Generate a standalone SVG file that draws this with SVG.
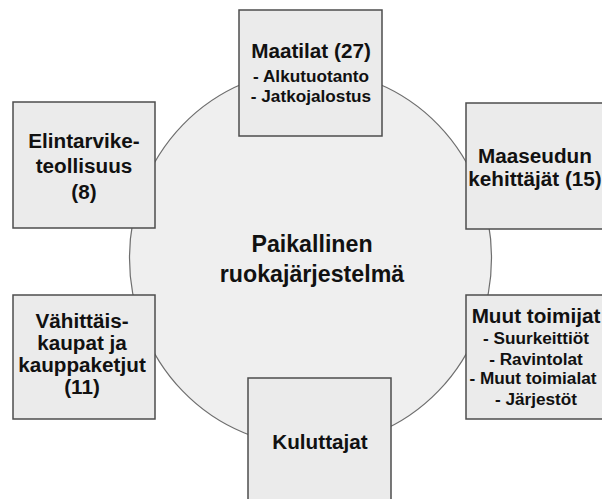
<svg xmlns="http://www.w3.org/2000/svg" width="602" height="499" viewBox="0 0 602 499">
<style>
.box{fill:#ebebeb;stroke:#4d4d4d;stroke-width:1.5}
.hub{fill:#efefef;stroke:#6e6e6e;stroke-width:1.2}
text{font-family:"Liberation Sans",Arial,sans-serif;font-weight:bold;fill:#111;text-anchor:middle}
.t{font-size:20.7px}
.s{font-size:17.2px}
.c{font-size:23.2px}
</style>
<rect width="602" height="499" fill="#ffffff"/>
<g id="hub">
<ellipse class="hub" cx="310.5" cy="258" rx="181" ry="188"/>
<text class="c" x="312" y="252">Paikallinen</text>
<text class="c" x="312" y="282">ruokajärjestelmä</text>
</g>
<g id="connectors"></g>
<g id="maatilat">
<rect class="box" x="239" y="10" width="143" height="126"/>
<text class="t" x="311" y="58">Maatilat (27)</text>
<text class="s" x="311" y="82">- Alkutuotanto</text>
<text class="s" x="311" y="102">- Jatkojalostus</text>
</g>
<g id="elintarvike">
<rect class="box" x="13" y="102" width="142" height="126"/>
<text class="t" x="84" y="148">Elintarvike-</text>
<text class="t" x="84" y="173">teollisuus</text>
<text class="t" x="84" y="199">(8)</text>
</g>
<g id="maaseudun">
<rect class="box" x="466" y="103" width="143" height="126"/>
<text class="t" x="535" y="163">Maaseudun</text>
<text class="t" x="535" y="186">kehittäjät (15)</text>
</g>
<g id="vahittais">
<rect class="box" x="13" y="295" width="142" height="124"/>
<text class="t" x="82" y="328">Vähittäis-</text>
<text class="t" x="82" y="350">kaupat ja</text>
<text class="t" x="82" y="372">kauppaketjut</text>
<text class="t" x="82" y="394">(11)</text>
</g>
<g id="muut">
<rect class="box" x="466" y="295" width="143" height="124"/>
<text class="t" x="536" y="323">Muut toimijat</text>
<text class="s" x="536" y="344">- Suurkeittiöt</text>
<text class="s" x="536" y="365">- Ravintolat</text>
<text class="s" x="533" y="384">- Muut toimialat</text>
<text class="s" x="536" y="405">- Järjestöt</text>
</g>
<g id="kuluttajat">
<rect class="box" x="248" y="378" width="143" height="126"/>
<text class="t" x="320" y="449">Kuluttajat</text>
</g>
</svg>
